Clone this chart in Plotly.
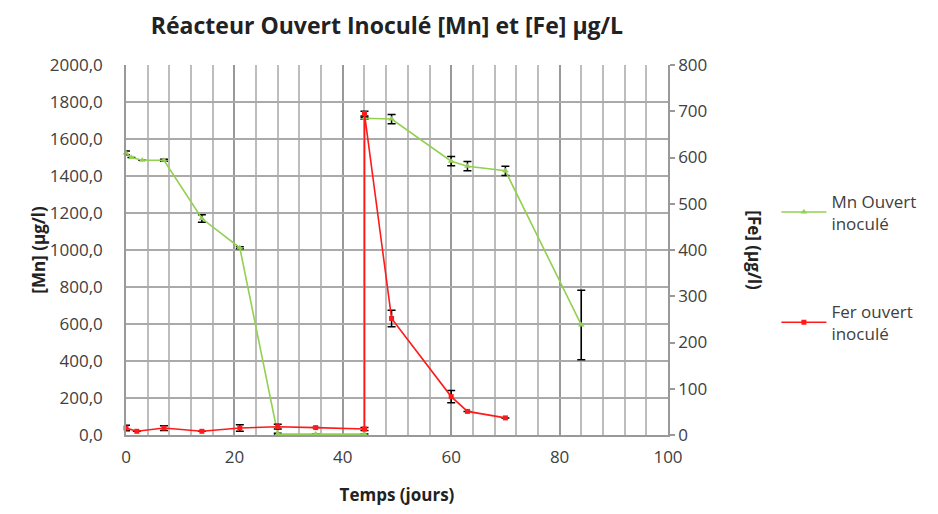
import plotly.graph_objects as go

# Data
mn_days = [0, 1, 3, 7, 14, 21, 28, 35, 44, 44, 49, 60, 63, 70, 84]
mn_vals = [1525, 1500, 1485, 1485, 1170, 1012, 5, 5, 5, 1712, 1708, 1480, 1453, 1428, 595]
mn_err = [10, 0, 0, 5, 20, 5, 5, 0, 0, 5, 25, 25, 25, 25, 188]

fe_days = [0, 2, 7, 14, 21, 28, 35, 44, 44, 49, 60, 63, 70]
fe_vals = [15, 8, 15, 8, 15, 18, 16, 13, 695, 252, 83, 51, 37]
fe_err = [6, 0, 5, 0, 7, 5, 0, 3, 5, 18, 13, 0, 0]

left_ticks = [0, 200, 400, 600, 800, 1000, 1200, 1400, 1600, 1800, 2000]
right_ticks = [0, 100, 200, 300, 400, 500, 600, 700, 800]
x_ticks = [0, 20, 40, 60, 80, 100]

FONT = "Open Sans"
GREEN = "#92D050"
RED = "#FF1A1A"
TXT = "#404040"

fig = go.Figure()
fig.add_trace(go.Scatter(
    x=mn_days, y=mn_vals, name="Mn Ouvert<br>inoculé",
    mode="lines+markers", legendgroup="a",
    line=dict(color=GREEN, width=1.6),
    marker=dict(symbol="triangle-up", size=6, color=GREEN),
    error_y=dict(type="data", array=mn_err, visible=True, color="black", thickness=1.5, width=4),
    cliponaxis=False, yaxis="y"))
fig.add_trace(go.Scatter(
    x=fe_days, y=fe_vals, name="Fer ouvert<br>inoculé",
    mode="lines+markers", legendgroup="b",
    line=dict(color=RED, width=1.6),
    marker=dict(symbol="square", size=5, color=RED),
    error_y=dict(type="data", array=fe_err, visible=True, color="black", thickness=1.5, width=4),
    cliponaxis=False, yaxis="y2"))

fig.update_layout(
    width=930, height=506,
    margin=dict(l=118, r=270, t=57, b=77),
    paper_bgcolor="white", plot_bgcolor="white",
    separators=", ",
    font=dict(family=FONT, size=17, color=TXT),
    title=dict(text="<b>Réacteur Ouvert Inoculé [Mn] et [Fe] µg/L</b>",
               x=0.4075, xanchor="center", y=0.964, yanchor="middle",
               font=dict(family=FONT, size=23, color="#222222")),
    xaxis=dict(range=[0, 100], tickvals=x_ticks, showgrid=True,
               gridcolor="#999999", gridwidth=1.5,
               minor=dict(dtick=4, showgrid=True, gridcolor="#BDBDBD", gridwidth=1.5),
               showline=True, linecolor="#999999", linewidth=1.5,
               ticks="", zeroline=False, ticklabelstandoff=6,
               tickfont=dict(size=17, color=TXT),
               title=dict(text="<b>Temps (jours)</b>", font=dict(size=17, color="#222222"), standoff=22)),
    yaxis=dict(range=[0, 2000], tickvals=left_ticks, tickformat=".1f",
               showgrid=True, gridcolor="#AAAAAA", gridwidth=1.5,
               showline=True, linecolor="#999999", linewidth=1.5, mirror=False,
               zeroline=False, ticks="", ticklabelstandoff=18,
               tickfont=dict(size=17, color=TXT),
               title=dict(text="<b>[Mn] (µg/l)</b>", font=dict(size=17, color="#222222"), standoff=0)),
    yaxis2=dict(range=[0, 800], tickvals=right_ticks, overlaying="y", side="right",
                showgrid=False, zeroline=False,
                showline=True, linecolor="#999999", linewidth=1.5,
                ticks="outside", ticklen=5, tickcolor="#999999", tickwidth=1.5,
                tickfont=dict(size=17, color=TXT)),
    showlegend=True,
    legend=dict(x=1.2, y=0.68, xanchor="left", yanchor="top",
                font=dict(size=17, color=TXT), tracegroupgap=63,
                itemwidth=45, bgcolor="rgba(0,0,0,0)"),
    annotations=[dict(text="<b>[Fe] (µg/l)</b>", textangle=90,
                      xref="paper", yref="paper", x=1.16, y=0.5,
                      xanchor="center", yanchor="middle", showarrow=False,
                      font=dict(size=17, color="#222222"))],
)

fig.write_html("out.html")
